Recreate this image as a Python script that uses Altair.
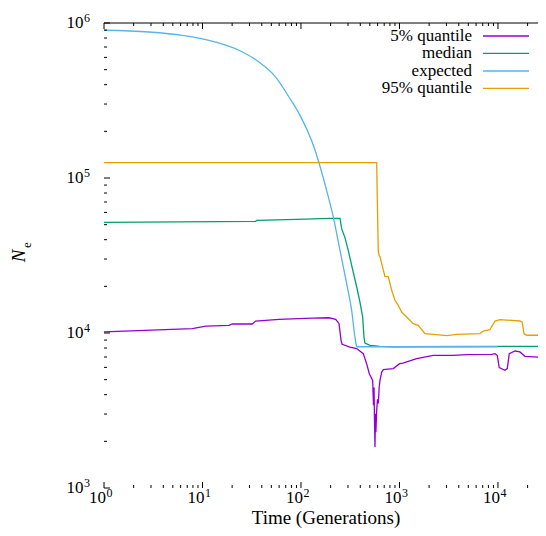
import altair as alt
import pandas as pd

# ---- data (Time in generations, Ne) ----
purple_t = [1, 7.88, 10.8, 18.6, 20.1, 32.0, 34.7, 59.8, 130, 192, 225, 243, 256, 262, 314, 368, 429, 464, 494,
            534, 545, 552, 558, 564, 570, 576, 587, 598, 610, 622, 634, 660, 685, 865, 1003, 1084, 1496, 2204,
            3516, 4809, 8630, 9330, 9840, 10300, 11780, 12440, 13030, 14890, 16700, 18800, 30700]
purple_n = [10160, 10680, 11060, 11210, 11430, 11430, 11950, 12260, 12480, 12540, 12260, 11530, 8870, 8460, 8120,
            7940, 7360, 6340, 5460, 4950, 3420, 4450, 2700, 1840, 3010, 2290, 3170, 3730, 3510, 4450, 4950, 5600,
            5810, 5890, 6340, 6400, 6840, 7180, 7180, 7260, 7290, 7360, 7180, 5980, 5750, 5890, 7360, 7650, 7550,
            7070, 6940]

green_t = [1, 34.7, 35.5, 90.4, 197, 249, 259, 280, 302, 327, 368, 397, 423, 436, 446, 502, 634, 865, 30700]
green_n = [51800, 52500, 53300, 54100, 54900, 54900, 47100, 41100, 34100, 27300, 19800, 15800, 12690, 9420, 8620,
           8330, 8200, 8150, 8200]

blue_t = [1, 2.86, 6.24, 13.6, 23.5, 37.5, 55.4, 75.5, 93.9, 139, 153, 182, 213, 249, 291, 327, 353, 368, 375, 9930]
blue_n = [898000, 875000, 833000, 754000, 667000, 560000, 448000, 333000, 266000, 151000, 124000, 83300, 56000,
          34100, 20800, 13980, 9420, 8210, 8150, 8150]

orange_t = [1, 587, 596, 609, 620, 634, 660, 712, 770, 834, 900, 972, 1052, 1183, 1380, 1552, 1816, 2204, 3013, 3808,
            6560, 7090, 8300, 9330, 10480, 16700, 17650, 18370, 19550, 30700]
orange_n = [125700, 125700, 71800, 34100, 31700, 31000, 28000, 23200, 23000, 18850, 16250, 15090, 13650, 12690, 11500,
            11210, 9910, 9810, 9620, 9810, 9910, 10300, 10520, 11950, 12200, 11950, 11760, 9910, 9670, 9670]

series_labels = ["5% quantile", "median", "expected", "95% quantile"]
series_colors = ["#9400d3", "#009e73", "#56b4e9", "#e69f00"]
series_interp = ["linear", "linear", "monotone", "linear"]

X_MAX = 25500
x_major = [1, 10, 100, 1000, 10000]
x_exp = ["0", "1", "2", "3", "4"]
x_minor = [m * 10 ** k for k in range(0, 5) for m in range(2, 10) if m * 10 ** k <= X_MAX]
y_major = [1000, 10000, 100000, 1000000]
y_exp = ["3", "4", "5", "6"]
y_minor = [m * 10 ** k for k in range(3, 6) for m in range(2, 10)]

x_title = "Time (Generations)"

# ---- layout ----
W, H = 434, 465
FONT = "Liberation Serif"
xs = alt.Scale(type="log", domain=[1, X_MAX], nice=False)
ys = alt.Scale(type="log", domain=[1000, 1000000], nice=False)

x_axis = alt.Axis(labels=False, ticks=False, grid=False, domainColor="black", domainWidth=1, title=None)
y_axis = alt.Axis(labels=False, ticks=False, grid=False, domainColor="black", domainWidth=1, title=None)

layers = []
all_series = [(purple_t, purple_n), (green_t, green_n), (blue_t, blue_n), (orange_t, orange_n)]
for (t, n), col, interp in zip(all_series, series_colors, series_interp):
    df = pd.DataFrame({"t": t, "n": n, "i": list(range(len(t)))})
    layers.append(
        alt.Chart(df).mark_line(color=col, strokeWidth=1.3, clip=True, interpolate=interp).encode(
            x=alt.X("t:Q", scale=xs, axis=x_axis),
            y=alt.Y("n:Q", scale=ys, axis=y_axis),
            order="i:Q",
        )
    )

# tick marks (inward, gnuplot style)
def xticks(vals, length):
    df = pd.DataFrame({"v": vals})
    bot = alt.Chart(df).mark_rule(color="black", strokeWidth=1).encode(
        x=alt.X("v:Q", scale=xs, axis=None), y=alt.value(H), y2=alt.value(H - length))
    top = alt.Chart(df).mark_rule(color="black", strokeWidth=1).encode(
        x=alt.X("v:Q", scale=xs, axis=None), y=alt.value(0), y2=alt.value(length))
    return [bot, top]

def yticks(vals, length):
    df = pd.DataFrame({"v": vals})
    return [alt.Chart(df).mark_rule(color="black", strokeWidth=1).encode(
        y=alt.Y("v:Q", scale=ys, axis=None), x=alt.value(0), x2=alt.value(length))]

layers += xticks(x_major, 6) + xticks(x_minor, 3) + yticks(y_major, 6) + yticks(y_minor, 3)

# tick labels 10^k
xl = pd.DataFrame({"v": x_major, "base": ["10"] * len(x_major), "e": x_exp})
layers.append(alt.Chart(xl).mark_text(font=FONT, fontSize=17, align="right", baseline="middle", dx=2,
                                      color="black").encode(
    x=alt.X("v:Q", scale=xs, axis=None), y=alt.value(H + 10), text="base:N"))
layers.append(alt.Chart(xl).mark_text(font=FONT, fontSize=12, align="left", baseline="middle", dx=2.5,
                                      color="black").encode(
    x=alt.X("v:Q", scale=xs, axis=None), y=alt.value(H + 5), text="e:N"))

yl = pd.DataFrame({"v": y_major, "base": ["10"] * len(y_major), "e": y_exp})
layers.append(alt.Chart(yl).mark_text(font=FONT, fontSize=17, align="right", baseline="middle",
                                      color="black").encode(
    y=alt.Y("v:Q", scale=ys, axis=None), x=alt.value(-20.5), text="base:N"))
layers.append(alt.Chart(yl).mark_text(font=FONT, fontSize=12, align="left", baseline="middle", dy=-5,
                                      color="black").encode(
    y=alt.Y("v:Q", scale=ys, axis=None), x=alt.value(-20), text="e:N"))

one = pd.DataFrame({"a": [0]})
# top border
layers.append(alt.Chart(one).mark_rule(color="black", strokeWidth=1).encode(
    x=alt.value(0), x2=alt.value(W), y=alt.value(0)))

# x-axis title (centred on the reference's plot area)
layers.append(alt.Chart(pd.DataFrame({"s": [x_title]})).mark_text(
    font=FONT, fontSize=19, align="center", baseline="alphabetic", color="black").encode(
    text="s:N", x=alt.value(222), y=alt.value(501)))

# legend
legend_y = [13, 30.3, 48, 65.3]
for lab, col, yy in zip(series_labels, series_colors, legend_y):
    ldf = pd.DataFrame({"label": [lab]})
    layers.append(alt.Chart(ldf).mark_text(font=FONT, fontSize=17, align="right", baseline="middle",
                                           color="black").encode(
        text="label:N", x=alt.value(368), y=alt.value(yy)))
    layers.append(alt.Chart(ldf).mark_rule(color=col, strokeWidth=1.3).encode(
        x=alt.value(379), x2=alt.value(425), y=alt.value(yy)))

# y-axis title N_e
layers.append(alt.Chart(pd.DataFrame({"s": ["N"]})).mark_text(
    font=FONT, fontSize=19, fontStyle="italic", angle=270, baseline="middle", align="center",
    color="black").encode(text="s:N", x=alt.value(-85), y=alt.value(233)))
layers.append(alt.Chart(pd.DataFrame({"s": ["e"]})).mark_text(
    font=FONT, fontSize=13, angle=270, baseline="middle", align="center",
    color="black").encode(text="s:N", x=alt.value(-77), y=alt.value(222)))

chart = alt.layer(*layers).properties(
    width=W, height=H,
    autosize=alt.AutoSizeParams(type="none"),
    padding={"left": 96, "top": 15, "right": 0, "bottom": 40},
).configure(background="white").configure_view(stroke=None)

chart.save("out.html", embed_options={"renderer": "svg", "actions": False})
